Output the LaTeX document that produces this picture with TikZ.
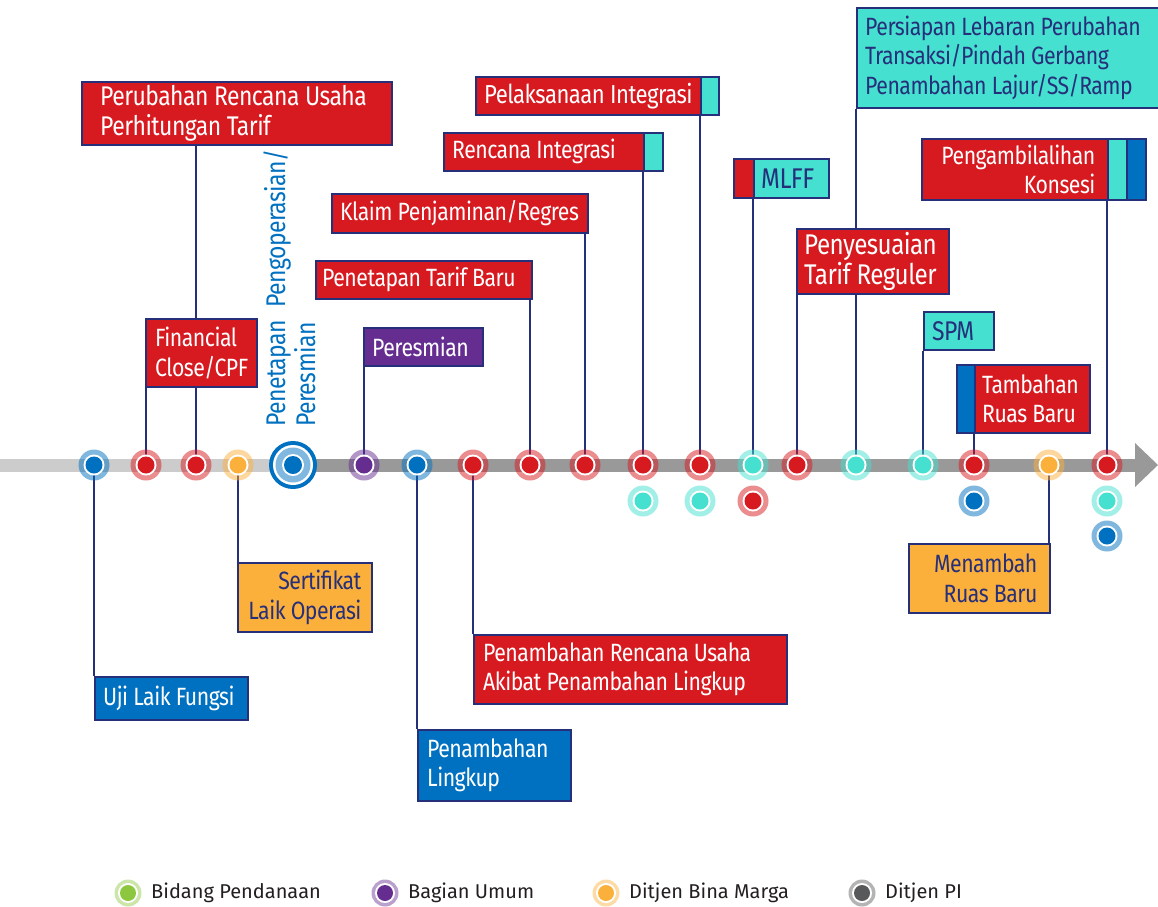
\documentclass[tikz,border=0pt]{standalone}
\usepackage{fontspec}
\setmainfont{Fira Sans}
\newfontfamily\condfont{Fira Sans}[FakeStretch=0.85, LetterSpace=-2]
\newfontfamily\legfont{Fira Sans}
\definecolor{cred}{HTML}{D71920}
\definecolor{cblue}{HTML}{0070C0}
\definecolor{ccyan}{HTML}{45E0CF}
\definecolor{corange}{HTML}{FBB03B}
\definecolor{cpurple}{HTML}{662D91}
\definecolor{cnavy}{HTML}{262F7A}
\definecolor{cgreen}{HTML}{8DC63F}
\definecolor{cgray}{HTML}{58595B}
\definecolor{barlight}{HTML}{CCCCCC}
\definecolor{bardark}{HTML}{999999}
\definecolor{legtext}{HTML}{231F20}
\tikzset{
  boxshape/.style={draw=cnavy, line width=1.6pt, inner sep=0pt, anchor=north west},
  redb/.style={fill=cred},
  blueb/.style={fill=cblue},
  cyanb/.style={fill=ccyan},
  orangeb/.style={fill=corange},
  purpleb/.style={fill=cpurple},
  txt/.style={inner sep=0pt, font=\condfont\fontsize{25}{29.5}\selectfont},
  midtxt/.style={font=\condfont\fontsize{26}{29.5}\selectfont},
  bigtxt/.style={font=\condfont\fontsize{27}{29.5}\selectfont},
  hugetxt/.style={font=\condfont\fontsize{28.5}{30}\selectfont},
  wtxt/.style={txt, text=white},
  ntxt/.style={txt, text=cnavy},
  conn/.style={draw=cnavy, line width=1.6pt},
  legtxt/.style={inner sep=0pt, anchor=west, text=legtext, font=\legfont\fontsize{20}{22}\selectfont}
}
% box: name, x1, y1, x2, y2, style
\newcommand\bx[6]{%
  \pgfmathsetmacro\bw{#4-#2}\pgfmathsetmacro\bh{#5-#3}%
  \node[boxshape, #6, minimum width=\bw pt, minimum height=\bh pt] (#1) at (#2,#3) {};}
% text in box: name, pad, style, text
\newcommand\txw[4]{\node[#3, anchor=west, align=left] (#1T) at ([xshift=#2pt]#1.west) {#4};}
\newcommand\txe[4]{\node[#3, anchor=east, align=right] (#1T) at ([xshift=-#2pt]#1.east) {#4};}
% timeline dot: name, x, y, colour
\newcommand\tdot[4]{%
  \fill[#4, fill opacity=0.5] (#2,#3) circle[radius=15.5pt];
  \fill[white] (#2,#3) circle[radius=10.5pt];
  \node[circle, fill=#4, inner sep=0pt, minimum size=17pt] (#1) at (#2,#3) {};}
\newcommand\ldot[4]{%
  \fill[#4, fill opacity=0.45] (#2,#3) circle[radius=13.5pt];
  \fill[white] (#2,#3) circle[radius=10pt];
  \node[circle, fill=#4, inner sep=0pt, minimum size=16pt] (#1) at (#2,#3) {};}
\begin{document}
\begin{tikzpicture}[x=1pt, y=-1pt]
\useasboundingbox (0,0) rectangle (1158,906);
% timeline bar
\fill[barlight] (0,459) rectangle (293,472);
\fill[bardark] (293,459) rectangle (1137,472);
\fill[bardark] (1135,443) -- (1158,465) -- (1135,487) -- cycle;
\foreach \n/\x in {d1/94,d2/146,d3/196,d4/238,d6/364,d7/417,d8/473,d9/530,d10/585,d11/643,d12/700,d13/753,d14/797,d15/856,d16/923,d17/974,d18/1049,d19/1107}
  \coordinate (\n) at (\x,465);
% boxes
\bx{perub}{81}{81}{391}{144}{redb}
\bx{fin}{145}{318}{256}{386}{redb}
\bx{peres}{363}{327}{482}{365}{purpleb}
\bx{tarifbaru}{315}{260}{531}{298}{redb}
\bx{klaim}{331}{193}{587}{232}{redb}
\bx{rencana}{443}{132}{643}{170}{redb}
\bx{rencanaS}{643}{132}{662}{170}{cyanb}
\bx{pelak}{475}{76}{700}{114}{redb}
\bx{pelakS}{700}{76}{718}{114}{cyanb}
\bx{mlffR}{733}{158}{753}{197}{redb}
\bx{mlff}{753}{158}{828}{197}{cyanb}
\bx{penyes}{796}{228}{948}{293}{redb}
\bx{persiap}{856}{7}{1163}{107}{cyanb}
\bx{pengam}{921}{138}{1107}{199}{redb}
\bx{pengamC}{1107}{138}{1126}{199}{cyanb}
\bx{pengamB}{1126}{138}{1145}{199}{blueb}
\bx{spm}{923}{311}{993}{349}{cyanb}
\bx{tambB}{956}{364}{974}{432}{blueb}
\bx{tamb}{974}{364}{1089}{432}{redb}
\bx{sert}{237}{562}{371}{631}{orangeb}
\bx{uji}{94}{676}{247}{719}{blueb}
\bx{penrenc}{473}{634}{786}{703}{redb}
\bx{penling}{417}{729}{570}{800}{blueb}
\bx{menamb}{908}{543}{1049}{612}{orangeb}
% connectors
\draw[conn] (d1) -- (d1 |- uji.north);
\draw[conn] (d2) -- (d2 |- fin.south);
\draw[conn] (d3) -- (d3 |- fin.south);
\draw[conn] (fin.north -| d3) -- (d3 |- perub.south);
\draw[conn] (d4) -- (d4 |- sert.north);
\draw[conn] (d6) -- (d6 |- peres.south);
\draw[conn] (d7) -- (d7 |- penling.north);
\draw[conn] (d8) -- (d8 |- penrenc.north);
\draw[conn] (d9) -- (d9 |- tarifbaru.south);
\draw[conn] (d10) -- (d10 |- klaim.south);
\draw[conn] (d11) -- (d11 |- rencana.south);
\draw[conn] (d12) -- (d12 |- pelak.south);
\draw[conn] (d13) -- (d13 |- mlff.south);
\draw[conn] (d14) -- (d14 |- penyes.south);
\draw[conn] (d15) -- (d15 |- penyes.south);
\draw[conn] (penyes.north -| d15) -- (d15 |- persiap.south);
\draw[conn] (d16) -- (d16 |- spm.south);
\draw[conn] (d17) -- (d17 |- tamb.south);
\draw[conn] (d18) -- (d18 |- menamb.north);
\draw[conn] (d19) -- (d19 |- pengam.south);
% box texts
\txw{perub}{19}{wtxt,bigtxt}{Perubahan Rencana Usaha\\Perhitungan Tarif}
\txw{fin}{10}{wtxt}{Financial\\Close/CPF}
\txw{peres}{9}{wtxt}{Peresmian}
\txw{tarifbaru}{7}{wtxt}{Penetapan Tarif Baru}
\txw{klaim}{9}{wtxt}{Klaim Penjaminan/Regres}
\txw{rencana}{9}{wtxt}{Rencana Integrasi}
\txw{pelak}{9}{wtxt,midtxt}{Pelaksanaan Integrasi}
\txw{mlff}{8}{ntxt,hugetxt}{MLFF}
\txw{penyes}{8}{wtxt,hugetxt}{Penyesuaian\\Tarif Reguler}
\txw{persiap}{9}{ntxt}{Persiapan Lebaran Perubahan\\Transaksi/Pindah Gerbang\\Penambahan Lajur/SS/Ramp}
\txe{pengam}{13}{wtxt}{Pengambilalihan\\Konsesi}
\txw{spm}{9}{ntxt,bigtxt}{SPM}
\txw{tamb}{8}{wtxt}{Tambahan\\Ruas Baru}
\txe{sert}{11}{ntxt}{Sertifikat\\Laik Operasi}
\txw{uji}{9}{wtxt}{Uji Laik Fungsi}
\txw{penrenc}{10}{wtxt}{Penambahan Rencana Usaha\\Akibat Penambahan Lingkup}
\txw{penling}{10}{wtxt}{Penambahan\\Lingkup}
\txe{menamb}{13}{ntxt}{Menambah\\Ruas Baru}
% timeline dots
\tdot{t1}{94}{465}{cblue}
\tdot{t2}{146}{465}{cred}
\tdot{t3}{196}{465}{cred}
\tdot{t4}{238}{465}{corange}
\tdot{t6}{364}{465}{cpurple}
\tdot{t7}{417}{465}{cblue}
\tdot{t8}{473}{465}{cred}
\tdot{t9}{530}{465}{cred}
\tdot{t10}{585}{465}{cred}
\tdot{t11}{643}{465}{cred}
\tdot{t12}{700}{465}{cred}
\tdot{t13}{753}{465}{ccyan}
\tdot{t14}{797}{465}{cred}
\tdot{t15}{856}{465}{ccyan}
\tdot{t16}{923}{465}{ccyan}
\tdot{t17}{974}{465}{cred}
\tdot{t18}{1049}{465}{corange}
\tdot{t19}{1107}{465}{cred}
\tdot{t11b}{643}{501}{ccyan}
\tdot{t12b}{700}{501}{ccyan}
\tdot{t13b}{753}{501}{cred}
\tdot{t17b}{974}{501}{cblue}
\tdot{t19b}{1107}{501}{ccyan}
\tdot{t19c}{1107}{536}{cblue}
% big milestone dot
\fill[cblue] (293,465) circle[radius=24pt];
\fill[white] (293,465) circle[radius=20pt];
\fill[cblue!50] (293,465) circle[radius=17.5pt];
\fill[white] (293,465) circle[radius=11pt];
\node[circle, fill=cblue, inner sep=0pt, minimum size=18pt] (dbig) at (293,465) {};
% vertical label
\node[rotate=90, anchor=north west, align=left, inner sep=0pt, text=cblue,
      font=\condfont\fontsize{27}{30}\selectfont] (pengop) at (264,427)
      {Penetapan\hspace{7pt} Pengoperasian/\\Peresmian};
% legend
\ldot{lg1}{128}{893}{cgreen}
\node[legtxt] (lg1T) at (151,893) {Bidang Pendanaan};
\ldot{lg2}{385}{893}{cpurple}
\node[legtxt] (lg2T) at (408,893) {Bagian Umum};
\ldot{lg3}{606}{893}{corange}
\node[legtxt] (lg3T) at (629,893) {Ditjen Bina Marga};
\ldot{lg4}{862}{893}{cgray}
\node[legtxt] (lg4T) at (885,893) {Ditjen PI};
\end{tikzpicture}
\end{document}
